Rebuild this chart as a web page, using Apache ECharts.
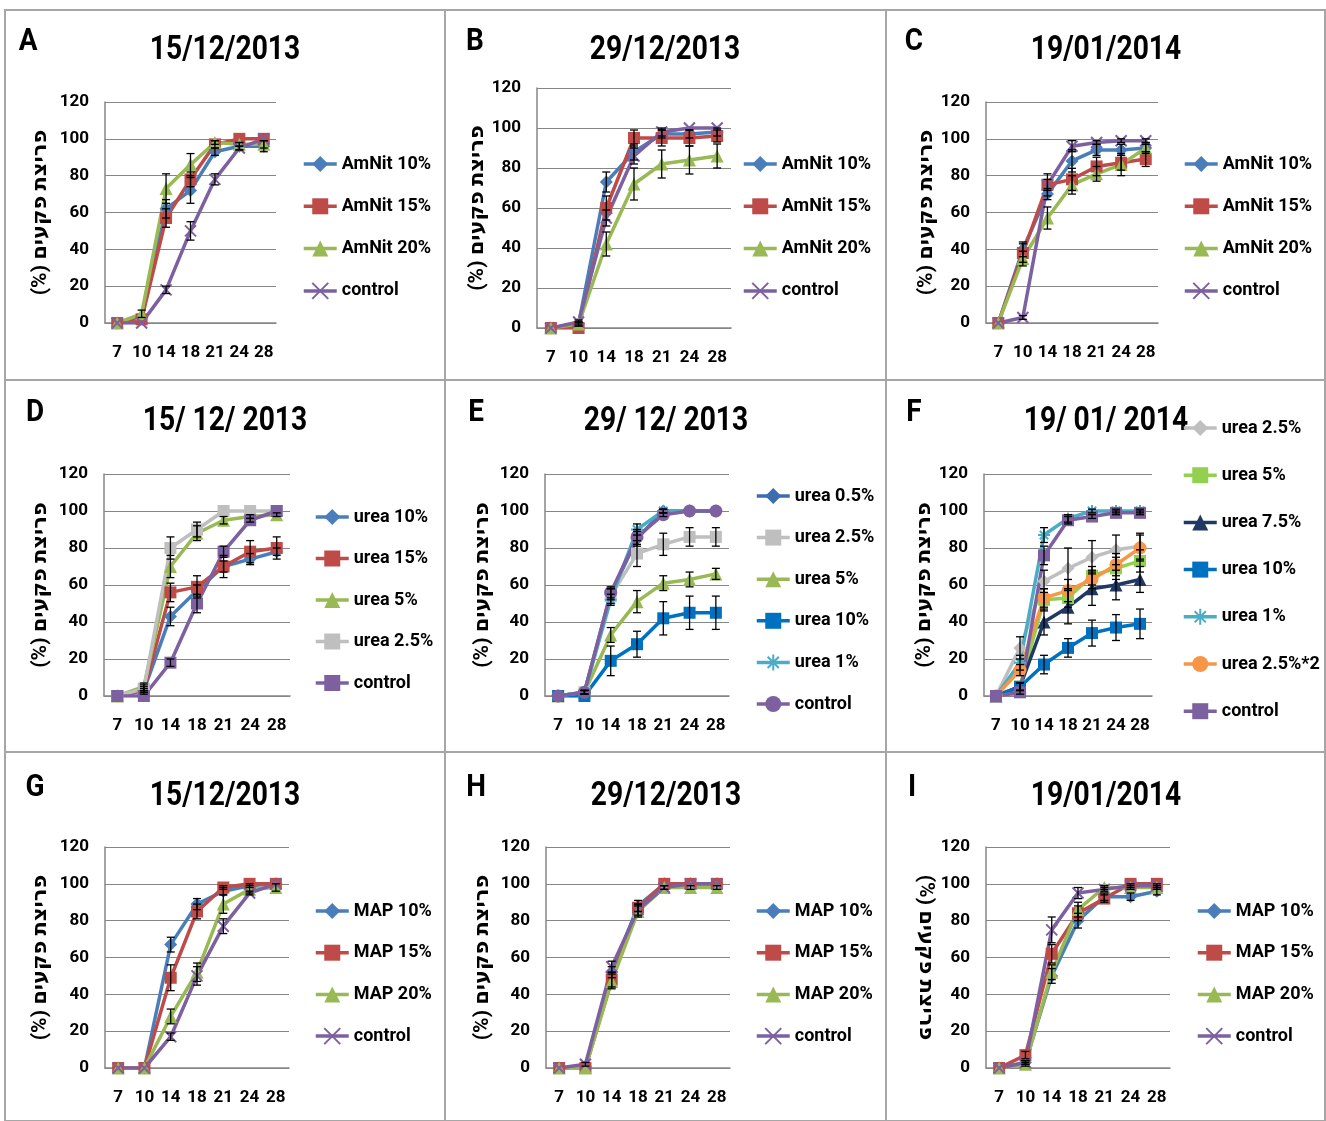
<!DOCTYPE html>
<html>
<head>
<meta charset="utf-8">
<script src="https://cdn.jsdelivr.net/npm/echarts@6/dist/echarts.min.js"></script>
<style>
  body { margin: 0; background: #fff; }
  .layer { position: absolute; left: 0; top: 0; width: 1326px; height: 1121px; }
</style>
</head>
<body>
<div id="root"></div>
<script>
const days = ['7', '10', '14', '18', '21', '24', '28'];
const yName = '(%) פריצת פקעים';

// A - 15/12/2013 AmNit
const aAmNit10 = [0, 3, 62, 72, 93, 96, 96];
const aAmNit10Err = [0, 0, 5, 7, 2, 2, 3];
const aAmNit15 = [0, 2, 57, 78, 97, 100, 100];
const aAmNit15Err = [0, 0, 5, 4, 2, 0, 0];
const aAmNit20 = [0, 5, 73, 86, 98, 97, 97];
const aAmNit20Err = [0, 2, 8, 6, 1, 1, 2];
const aControl = [0, 0, 18, 50, 78, 95, 100];
const aControlErr = [0, 0, 2, 5, 3, 1, 0];

// B - 29/12/2013 AmNit
const bAmNit10 = [0, 2, 73, 88, 97, 97, 98];
const bAmNit10Err = [0, 1, 5, 4, 2, 2, 2];
const bAmNit15 = [0, 0, 60, 95, 95, 95, 96];
const bAmNit15Err = [0, 0, 6, 4, 4, 4, 3];
const bAmNit20 = [0, 2, 42, 72, 82, 84, 86];
const bAmNit20Err = [0, 1, 6, 8, 7, 7, 6];
const bControl = [0, 3, 55, 86, 98, 100, 100];
const bControlErr = [0, 1, 4, 4, 2, 0, 0];

// C - 19/01/2014 AmNit
const cAmNit10 = [0, 40, 70, 88, 94, 94, 95];
const cAmNit10Err = [0, 4, 3, 6, 3, 3, 2];
const cAmNit15 = [0, 38, 75, 78, 85, 87, 89];
const cAmNit15Err = [0, 5, 6, 6, 5, 4, 4];
const cAmNit20 = [0, 35, 57, 75, 81, 86, 95];
const cAmNit20Err = [0, 4, 6, 5, 4, 6, 3];
const cControl = [0, 3, 75, 96, 98, 99, 99];
const cControlErr = [0, 1, 3, 3, 1, 1, 1];

// D - 15/12/2013 urea
const dUrea10 = [0, 3, 43, 57, 70, 74, 78];
const dUrea10Err = [0, 1, 5, 3, 3, 3, 2];
const dUrea15 = [0, 3, 56, 59, 70, 78, 80];
const dUrea15Err = [0, 2, 5, 6, 6, 6, 6];
const dUrea5 = [0, 5, 70, 88, 95, 97, 98];
const dUrea5Err = [0, 2, 6, 4, 2, 1, 1];
const dUrea25 = [0, 4, 80, 90, 100, 100, 100];
const dUrea25Err = [0, 2, 6, 4, 0, 0, 0];
const dControl = [0, 0, 18, 50, 78, 95, 100];
const dControlErr = [0, 0, 2, 5, 3, 1, 0];

// E - 29/12/2013 urea
const eUrea05 = [0, 2, 55, 85, 100, 100, 100];
const eUrea05Err = [0, 0, 3, 4, 1, 0, 0];
const eUrea25 = [0, 2, 54, 77, 82, 86, 86];
const eUrea25Err = [0, 1, 4, 7, 6, 5, 5];
const eUrea5 = [0, 2, 33, 51, 61, 63, 66];
const eUrea5Err = [0, 1, 4, 6, 4, 4, 3];
const eUrea10 = [0, 0, 19, 28, 42, 45, 45];
const eUrea10Err = [0, 0, 8, 7, 9, 9, 9];
const eUrea1 = [0, 2, 52, 90, 100, 100, 100];
const eUrea1Err = [0, 1, 3, 3, 1, 0, 0];
const eControl = [0, 2, 56, 86, 98, 100, 100];
const eControlErr = [0, 1, 3, 4, 1, 0, 0];

// F - 19/01/2014 urea
const fUrea25 = [0, 26, 62, 69, 75, 79, 81];
const fUrea25Err = [0, 6, 6, 11, 9, 8, 7];
const fUrea5 = [0, 5, 52, 53, 65, 69, 73];
const fUrea5Err = [0, 2, 6, 5, 5, 6, 6];
const fUrea75 = [0, 5, 40, 48, 58, 60, 63];
const fUrea75Err = [0, 2, 7, 9, 9, 8, 7];
const fUrea10 = [0, 5, 17, 26, 34, 37, 39];
const fUrea10Err = [0, 2, 5, 5, 7, 7, 8];
const fUrea1 = [0, 18, 87, 96, 100, 100, 100];
const fUrea1Err = [0, 4, 4, 2, 1, 1, 1];
const fUrea25x2 = [0, 14, 53, 57, 63, 71, 80];
const fUrea25x2Err = [0, 3, 5, 6, 5, 6, 7];
const fControl = [0, 2, 76, 95, 97, 99, 99];
const fControlErr = [0, 1, 5, 2, 1, 1, 1];

// G - 15/12/2013 MAP
const gMap10 = [0, 0, 67, 89, 96, 99, 100];
const gMap10Err = [0, 0, 4, 3, 2, 1, 0];
const gMap15 = [0, 0, 49, 85, 98, 100, 100];
const gMap15Err = [0, 0, 7, 4, 1, 0, 0];
const gMap20 = [0, 0, 28, 52, 89, 97, 98];
const gMap20Err = [0, 0, 4, 5, 5, 2, 2];
const gControl = [0, 0, 17, 50, 77, 95, 100];
const gControlErr = [0, 0, 2, 5, 4, 1, 0];

// H - 29/12/2013 MAP
const hMap10 = [0, 1, 52, 88, 100, 100, 100];
const hMap10Err = [0, 0, 3, 3, 0, 0, 0];
const hMap15 = [0, 0, 48, 87, 100, 100, 100];
const hMap15Err = [0, 0, 4, 2, 0, 0, 0];
const hMap20 = [0, 0, 47, 85, 98, 98, 98];
const hMap20Err = [0, 0, 4, 3, 1, 1, 1];
const hControl = [0, 2, 55, 86, 98, 100, 100];
const hControlErr = [0, 1, 3, 3, 1, 0, 0];

// I - 19/01/2014 MAP
const iMap10 = [0, 3, 50, 80, 93, 93, 96];
const iMap10Err = [0, 1, 4, 4, 2, 2, 2];
const iMap15 = [0, 7, 62, 84, 92, 100, 100];
const iMap15Err = [0, 2, 5, 4, 2, 0, 0];
const iMap20 = [0, 2, 52, 86, 98, 98, 98];
const iMap20Err = [0, 1, 4, 4, 1, 1, 1];
const iControl = [0, 3, 75, 95, 97, 99, 99];
const iControlErr = [0, 1, 7, 3, 1, 1, 1];

const FONT = "Roboto,'DejaVu Sans',sans-serif";
const X_SYM = 'path://M0,0L10,10M10,0L0,10';
const STAR_SYM = 'path://M5,0L5,10M0,5L10,5M1.5,1.5L8.5,8.5M8.5,1.5L1.5,8.5';

const BLUE = '#4A7EBB', RED = '#BE4B48', GREEN = '#98B954', PURPLE = '#7D60A0';
const GRAY = '#BFBFBF', LIME = '#92D050', NAVY = '#1F3864', BLUE2 = '#0070C0', TEAL = '#4BACC6', ORANGE = '#F79646';

const dia = { symbol: 'diamond', size: 13 };
const sq = { symbol: 'rect', size: 12 };
const tri = { symbol: 'triangle', size: 13 };
const ex = { symbol: X_SYM, size: 11, stroke: true };
const star = { symbol: STAR_SYM, size: 12, stroke: true };
const circ = { symbol: 'circle', size: 13 };

const amnitSet = (v10, e10, v15, e15, v20, e20, vc, ec) => [
  { name: 'AmNit 10%', data: v10, err: e10, color: BLUE, ...dia },
  { name: 'AmNit 15%', data: v15, err: e15, color: RED, ...sq },
  { name: 'AmNit 20%', data: v20, err: e20, color: GREEN, ...tri },
  { name: 'control', data: vc, err: ec, color: PURPLE, ...ex }
];
const mapSet = (v10, e10, v15, e15, v20, e20, vc, ec) => [
  { name: 'MAP 10%', data: v10, err: e10, color: BLUE, ...dia },
  { name: 'MAP 15%', data: v15, err: e15, color: RED, ...sq },
  { name: 'MAP 20%', data: v20, err: e20, color: GREEN, ...tri },
  { name: 'control', data: vc, err: ec, color: PURPLE, ...ex }
];

// legend: [left, top, itemGap]
const panels = [
  { letter: 'A', lx: 28, title: '15/12/2013', tx: 225, ty: 50,
    grid: [105, 102, 171, 221], nameGap: 54, legend: [302, 154, 22.3],
    series: amnitSet(aAmNit10, aAmNit10Err, aAmNit15, aAmNit15Err, aAmNit20, aAmNit20Err, aControl, aControlErr) },
  { letter: 'B', lx: 475, title: '29/12/2013', tx: 665, ty: 50,
    grid: [537, 88, 194, 240], nameGap: 44, legend: [742, 154, 22.3],
    series: amnitSet(bAmNit10, bAmNit10Err, bAmNit15, bAmNit15Err, bAmNit20, bAmNit20Err, bControl, bControlErr) },
  { letter: 'C', lx: 914, title: '19/01/2014', tx: 1106, ty: 50,
    grid: [986, 102, 172, 221], nameGap: 47, legend: [1183, 154, 22.3],
    series: amnitSet(cAmNit10, cAmNit10Err, cAmNit15, cAmNit15Err, cAmNit20, cAmNit20Err, cControl, cControlErr) },
  { letter: 'D', lx: 35, title: '15/ 12/ 2013', tx: 225, ty: 421,
    grid: [104, 474, 186, 222], nameGap: 53, legend: [314, 507, 21.5],
    series: [
      { name: 'urea 10%', data: dUrea10, err: dUrea10Err, color: BLUE, ...dia },
      { name: 'urea 15%', data: dUrea15, err: dUrea15Err, color: RED, ...sq },
      { name: 'urea 5%', data: dUrea5, err: dUrea5Err, color: GREEN, ...tri },
      { name: 'urea 2.5%', data: dUrea25, err: dUrea25Err, color: GRAY, ...sq },
      { name: 'control', data: dControl, err: dControlErr, color: PURPLE, ...sq }
    ] },
  { letter: 'E', lx: 476, title: '29/ 12/ 2013', tx: 666, ty: 421,
    grid: [545, 474, 184, 222], nameGap: 52, legend: [755, 486, 21.6],
    series: [
      { name: 'urea 0.5%', data: eUrea05, err: eUrea05Err, color: '#3C6DB0', ...dia },
      { name: 'urea 2.5%', data: eUrea25, err: eUrea25Err, color: GRAY, ...sq },
      { name: 'urea 5%', data: eUrea5, err: eUrea5Err, color: GREEN, ...tri },
      { name: 'urea 10%', data: eUrea10, err: eUrea10Err, color: BLUE2, ...sq },
      { name: 'urea 1%', data: eUrea1, err: eUrea1Err, color: TEAL, ...star },
      { name: 'control', data: eControl, err: eControlErr, color: PURPLE, ...circ }
    ] },
  { letter: 'F', lx: 914, title: '19/ 01/ 2014', tx: 1106, ty: 421,
    grid: [984, 474, 168, 222], nameGap: 48, legend: [1182, 418, 27.2],
    series: [
      { name: 'urea 2.5%', data: fUrea25, err: fUrea25Err, color: GRAY, ...dia },
      { name: 'urea 5%', data: fUrea5, err: fUrea5Err, color: LIME, ...sq },
      { name: 'urea 7.5%', data: fUrea75, err: fUrea75Err, color: NAVY, ...tri },
      { name: 'urea 10%', data: fUrea10, err: fUrea10Err, color: BLUE2, ...sq },
      { name: 'urea 1%', data: fUrea1, err: fUrea1Err, color: TEAL, ...star },
      { name: 'urea 2.5%*2', data: fUrea25x2, err: fUrea25x2Err, color: ORANGE, ...circ },
      { name: 'control', data: fControl, err: fControlErr, color: PURPLE, ...sq }
    ] },
  { letter: 'G', lx: 35, title: '15/12/2013', tx: 225, ty: 796,
    grid: [105, 847, 184, 221], nameGap: 54, legend: [314, 901, 21.7],
    series: mapSet(gMap10, gMap10Err, gMap15, gMap15Err, gMap20, gMap20Err, gControl, gControlErr) },
  { letter: 'H', lx: 476, title: '29/12/2013', tx: 666, ty: 796,
    grid: [546, 847, 184, 221], nameGap: 53, legend: [755, 901, 21.7],
    series: mapSet(hMap10, hMap10Err, hMap15, hMap15Err, hMap20, hMap20Err, hControl, hControlErr) },
  { letter: 'I', lx: 912, title: '19/01/2014', tx: 1106, ty: 796,
    grid: [986, 847, 184, 221], nameGap: 50, nameRotate: -90, legend: [1196, 901, 21.7],
    series: mapSet(iMap10, iMap10Err, iMap15, iMap15Err, iMap20, iMap20Err, iControl, iControlErr) }
];

const txt = (size) => ({ fontFamily: FONT, fontWeight: 'bold', fontSize: size, color: '#000' });

function errorBars(s) {
  const pts = s.data.map((v, i) => [i, v, s.err[i]]).filter(p => p[2] > 0);
  return {
    type: 'custom',
    silent: true,
    z: 4,
    data: pts,
    encode: { x: 0, y: 1 },
    renderItem: (params, api) => {
      const i = api.value(0), v = api.value(1), e = api.value(2);
      const top = api.coord([i, v + e]);
      const bot = api.coord([i, v - e]);
      const st = { stroke: '#000', lineWidth: 1.3 };
      return {
        type: 'group',
        children: [
          { type: 'line', shape: { x1: top[0], y1: top[1], x2: bot[0], y2: bot[1] }, style: st },
          { type: 'line', shape: { x1: top[0] - 4, y1: top[1], x2: top[0] + 4, y2: top[1] }, style: st },
          { type: 'line', shape: { x1: bot[0] - 4, y1: bot[1], x2: bot[0] + 4, y2: bot[1] }, style: st }
        ]
      };
    }
  };
}

const root = document.getElementById('root');
panels.forEach((p, idx) => {
  const el = document.createElement('div');
  el.className = 'layer';
  root.appendChild(el);
  const chart = echarts.init(el);
  const graphic = [
    { type: 'text', x: p.lx, y: p.ty - 8, scaleX: 0.9, style: { text: p.letter, font: 'bold 31px ' + FONT, fill: '#000', textAlign: 'center', textVerticalAlign: 'middle' } },
    { type: 'text', x: p.tx, y: p.ty, scaleX: 0.83, style: { text: p.title, font: 'bold 34px ' + FONT, fill: '#000', textAlign: 'center', textVerticalAlign: 'middle' } }
  ];
  if (idx === 0) {
    const xs = [5, 445, 886, 1325], ys = [10, 380, 752, 1121];
    for (let r = 0; r < 3; r++) {
      for (let c = 0; c < 3; c++) {
        graphic.push({ type: 'rect', z: -10,
          shape: { x: xs[c], y: ys[r], width: xs[c + 1] - xs[c], height: ys[r + 1] - ys[r] },
          style: { fill: 'none', stroke: '#A6A6A6', lineWidth: 2 } });
      }
    }
  }
  const lineSeries = p.series.map(s => ({
    type: 'line',
    name: s.name,
    data: s.data,
    z: 3,
    symbol: s.symbol,
    symbolSize: s.size,
    showAllSymbol: true,
    lineStyle: { color: s.color, width: 3.5 },
    itemStyle: s.stroke ? { color: s.color, borderColor: s.color, borderWidth: 2 } : { color: s.color, borderWidth: 0 },
    emphasis: { disabled: true },
    animation: false
  }));
  chart.setOption({
    animation: false,
    graphic,
    grid: { left: p.grid[0], top: p.grid[1], width: p.grid[2], height: p.grid[3] },
    xAxis: {
      type: 'category', data: days, boundaryGap: true,
      axisLine: { lineStyle: { color: '#868686', width: 1.5 } },
      axisTick: { show: false },
      axisLabel: { ...txt(17), margin: 21, interval: 0 }
    },
    yAxis: {
      type: 'value', min: 0, max: 120, interval: 20,
      axisLine: { show: true, lineStyle: { color: '#868686', width: 1.5 } },
      axisTick: { show: false },
      splitLine: { lineStyle: { color: '#868686', width: 1 } },
      axisLabel: { ...txt(17), margin: 16 },
      name: yName, nameLocation: 'middle', nameGap: p.nameGap, nameRotate: p.nameRotate || 90,
      nameTextStyle: txt(21)
    },
    legend: {
      orient: 'vertical', left: p.legend[0], top: p.legend[1], itemGap: p.legend[2],
      padding: 0,
      itemWidth: 33, itemHeight: 20, selectedMode: false,
      lineStyle: { width: 3.5 },
      textStyle: { ...txt(18), lineHeight: 20 },
      data: p.series.map(s => s.name)
    },
    series: lineSeries.concat(p.series.map(errorBars))
  });
});
</script>
</body>
</html>
